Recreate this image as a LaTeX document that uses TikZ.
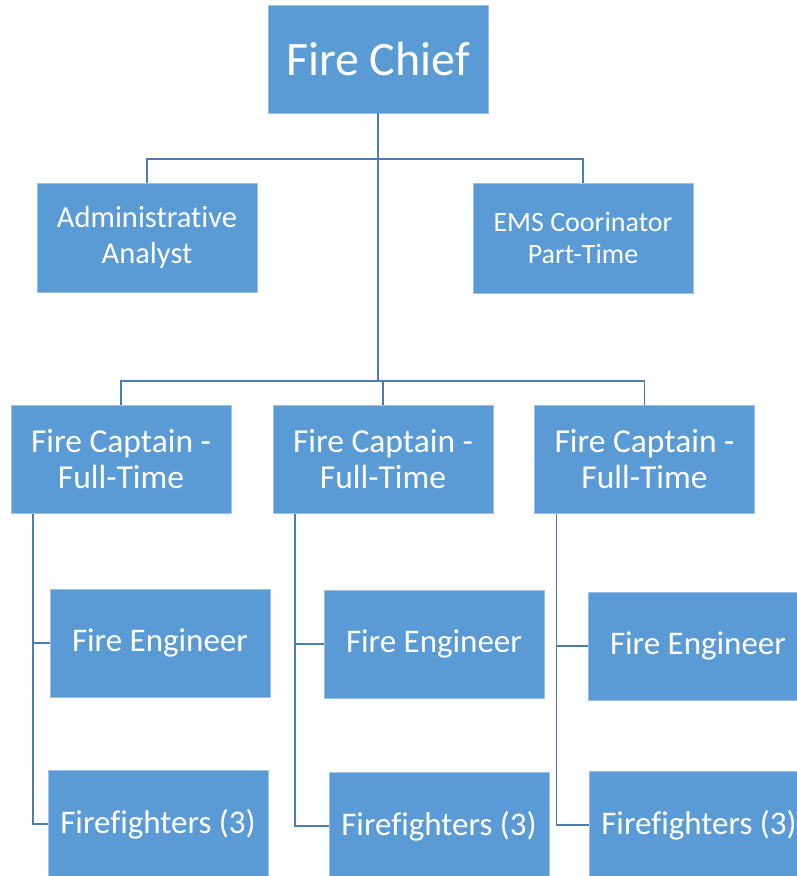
\documentclass[tikz,border=0pt]{standalone}
\usepackage{fontspec}
\setmainfont{Carlito}[Ligatures=NoCommon]
\definecolor{boxblue}{HTML}{5B9BD5}
\definecolor{boxedge}{HTML}{9CC2E5}
\definecolor{linkblue}{HTML}{4A7DB5}
\begin{document}
\begin{tikzpicture}[x=1pt,y=-1pt,
  unit/.style={fill=boxblue, draw=boxedge, line width=0.6pt, text=white,
    minimum width=220pt, minimum height=108pt, inner sep=0pt, align=center},
  crew/.style={unit, font=\fontsize{33}{40}\selectfont},
  captain/.style={unit, font=\fontsize{33.5}{36}\selectfont},
  link/.style={draw=linkblue, line width=1.2pt}]
\useasboundingbox (0,0) rectangle (796,876);

% top of the chart
\node[unit, font=\fontsize{48}{52}\selectfont] (chief) at (378,59) {Fire Chief};
\node[unit, minimum height=109pt, font=\fontsize{30.5}{36}\selectfont] (admin) at (147,237.5) {Administrative\\Analyst};
\node[unit, minimum height=110pt, font=\fontsize{28}{32}\selectfont] (ems) at (583,238) {EMS Coorinator\\Part-Time};

% captains
\node[captain] (cap1) at (121,459.5) {Fire Captain -\\Full-Time};
\node[captain] (cap2) at (383,459.5) {Fire Captain -\\Full-Time};
\node[captain] (cap3) at (644.5,459.5) {Fire Captain -\\Full-Time};

% crews
\node[crew] (fe1) at (160,643) {Fire Engineer};
\node[crew] (ff1) at (158,824) {Firefighters (3)};
\node[crew] (fe2) at (434,644) {Fire Engineer};
\node[crew] (ff2) at (439,826) {Firefighters (3)};
\node[crew] (fe3) at (698,646) {Fire Engineer};
\node[crew] (ff3) at (699,825) {Firefighters (3)};

% connectors
\coordinate (staffbus) at (378,159);
\coordinate (capbus) at (378,381);
\draw[link] (chief.south) -- (capbus);
\draw[link] (admin.north) |- (staffbus) -| (ems.north);
\draw[link] (cap1.north) |- (capbus) -| (cap3.north);
\draw[link] (cap2.north) -- (cap2.north |- capbus);

\draw[link] ([xshift=-88pt]cap1.south) |- (fe1.west);
\draw[link] ([xshift=-88pt]cap1.south) |- (ff1.west);
\draw[link] ([xshift=-88pt]cap2.south) |- (fe2.west);
\draw[link] ([xshift=-88pt]cap2.south) |- (ff2.west);
\draw[link] ([xshift=-88pt]cap3.south) |- (fe3.west);
\draw[link] ([xshift=-88pt]cap3.south) |- (ff3.west);
\end{tikzpicture}
\end{document}
